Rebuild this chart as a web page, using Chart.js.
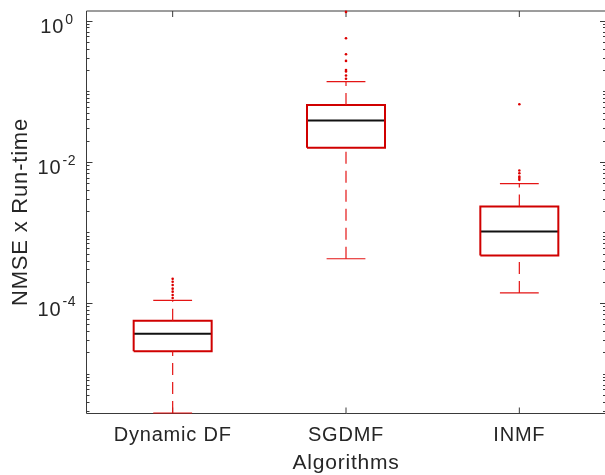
<!DOCTYPE html>
<html>
<head>
<meta charset="utf-8">
<script src="https://cdn.jsdelivr.net/npm/chart.js@4.4.1/dist/chart.umd.min.js"></script>
<style>
  html, body { margin: 0; padding: 0; background: #fff; overflow: hidden; }
  #wrap { width: 610px; height: 475px; }
</style>
</head>
<body>
<div id="wrap"><canvas id="chart"></canvas></div>
<script>
// box plot summary per algorithm
const categories = ["Dynamic DF", "SGDMF", "INMF"];
const lowerWhisker = [2.77e-6, 4.24e-4, 1.39e-4];
const q1 = [2.07e-5, 0.0159, 4.72e-4];
const medians = [3.67e-5, 0.0384, 1.03e-3];
const q3 = [5.61e-5, 0.0641, 2.33e-3];
const upperWhisker = [1.09e-4, 0.137, 4.93e-3];
const outliers = [
  [2.2e-4, 2.0e-4, 1.8e-4, 1.6e-4, 1.45e-4, 1.3e-4, 1.18e-4],
  [1.33, 0.563, 0.334, 0.269, 0.2, 0.19, 0.167, 0.15],
  [0.0656, 7.53e-3, 6.9e-3, 6.19e-3, 5.9e-3, 5.56e-3]
];
const yTickValues = [1e-4, 1e-2, 1];
const yMin = 2.77e-6;
const yMax = 1.37;

const TEXT = "#262626";
const AXIS = "#3a3a3a";
const FONT = "'Liberation Sans', Arial, Helvetica, sans-serif";
const BOX_HALF = 0.225;
const CAP_HALF = 0.112;

const boxPts = [];
const medPts = [];
const whiskPts = [];
const capPts = [];
const outPts = [];

categories.forEach((name, i) => {
  const x = i + 1;
  boxPts.push(
    { x: x - BOX_HALF, y: q1[i] }, { x: x + BOX_HALF, y: q1[i] },
    { x: x + BOX_HALF, y: q3[i] }, { x: x - BOX_HALF, y: q3[i] },
    { x: x - BOX_HALF, y: q1[i] }, { x: x, y: null }
  );
  medPts.push({ x: x - BOX_HALF, y: medians[i] }, { x: x + BOX_HALF, y: medians[i] }, { x: x, y: null });
  // upper whisker goes up from the box, lower one comes up from its end
  whiskPts.push(
    { x: x, y: q3[i] }, { x: x, y: upperWhisker[i] }, { x: x, y: null },
    { x: x, y: lowerWhisker[i] }, { x: x, y: q1[i] }, { x: x, y: null }
  );
  capPts.push(
    { x: x - CAP_HALF, y: upperWhisker[i] }, { x: x + CAP_HALF, y: upperWhisker[i] }, { x: x, y: null },
    { x: x - CAP_HALF, y: lowerWhisker[i] }, { x: x + CAP_HALF, y: lowerWhisker[i] }, { x: x, y: null }
  );
  outliers[i].forEach((v) => outPts.push({ x: x, y: v }));
});

function lineSet(data, color, width, dash) {
  return {
    type: "line",
    data: data,
    borderColor: color,
    borderWidth: width,
    borderDash: dash || [],
    borderJoinStyle: "miter",
    pointRadius: 0,
    showLine: true,
    spanGaps: false,
    fill: false,
    tension: 0,
    clip: false
  };
}

// frame, inward ticks and 10^n labels
const axesFrame = {
  id: "axesFrame",
  beforeDraw(chart) {
    chart.ctx.letterSpacing = "0.8px";
  },
  beforeDatasetsDraw(chart) {
    const { ctx, chartArea: a, scales } = chart;
    const xs = scales.x, ys = scales.y;
    const left = Math.round(a.left) + 0.5;
    const bottom = Math.round(a.bottom) + 0.5;
    ctx.save();
    ctx.strokeStyle = AXIS;
    ctx.lineWidth = 1;
    ctx.beginPath();
    ctx.moveTo(left, a.top);
    ctx.lineTo(a.right, a.top);
    ctx.lineTo(a.right, bottom);
    ctx.lineTo(left, bottom);
    ctx.closePath();
    for (let k = -7; k <= 0; k++) {
      for (let m = 1; m <= 9; m++) {
        const v = m * Math.pow(10, k);
        if (v < yMin || v > yMax) continue;
        const py = Math.round(ys.getPixelForValue(v)) + 0.5;
        const major = m === 1 && yTickValues.some((t) => Math.abs(Math.log10(t) - k) < 1e-9);
        const len = major ? 6 : 3;
        ctx.moveTo(left, py);
        ctx.lineTo(left + len, py);
        ctx.moveTo(a.right, py);
        ctx.lineTo(a.right - len, py);
      }
    }
    categories.forEach((c, i) => {
      const px = xs.getPixelForValue(i + 1);
      ctx.moveTo(px, bottom);
      ctx.lineTo(px, bottom - 6);
      ctx.moveTo(px, a.top);
      ctx.lineTo(px, a.top + 6);
    });
    ctx.stroke();
    ctx.restore();
  },
  afterDraw(chart) {
    const { ctx, scales } = chart;
    const ys = scales.y;
    ctx.save();
    ctx.fillStyle = TEXT;
    ctx.textAlign = "left";
    ctx.textBaseline = "alphabetic";
    yTickValues.forEach((v) => {
      const py = ys.getPixelForValue(v);
      const base = "10";
      const exp = String(Math.round(Math.log10(v)));
      ctx.font = "20px " + FONT;
      const wb = ctx.measureText(base).width;
      ctx.font = "14px " + FONT;
      const we = ctx.measureText(exp).width;
      const x0 = 57 - (wb + 1 + we) / 2;
      ctx.font = "20px " + FONT;
      ctx.fillText(base, x0, py + 12.5);
      ctx.font = "14px " + FONT;
      ctx.fillText(exp, x0 + wb + 1, py + 3);
    });
    ctx.restore();
  }
};

new Chart(document.getElementById("chart"), {
  type: "scatter",
  data: {
    datasets: [
      lineSet(whiskPts, "rgb(228,20,20)", 1.2, [12, 7]),
      lineSet(capPts, "rgb(228,20,20)", 1.2),
      lineSet(boxPts, "rgb(208,0,0)", 2),
      lineSet(medPts, "#111111", 2),
      {
        type: "scatter",
        data: outPts,
        pointRadius: 1.3,
        pointBackgroundColor: "rgb(220,0,0)",
        pointBorderWidth: 0,
        showLine: false,
        clip: false
      }
    ]
  },
  options: {
    responsive: true,
    maintainAspectRatio: false,
    animation: false,
    layout: { padding: { top: 11, right: 3, left: 0, bottom: 0 } },
    plugins: {
      legend: { display: false },
      tooltip: { enabled: false }
    },
    scales: {
      x: {
        type: "linear",
        position: "bottom",
        min: 0.5,
        max: 3.5,
        afterBuildTicks: (s) => { s.ticks = categories.map((c, i) => ({ value: i + 1 })); },
        afterFit: (s) => { s.height = 62; },
        grid: { display: false, drawTicks: false },
        border: { display: false },
        ticks: {
          color: TEXT,
          font: { family: FONT, size: 20 },
          padding: 10,
          autoSkip: false,
          maxRotation: 0,
          callback: (v) => categories[Math.round(v) - 1]
        },
        title: {
          display: true,
          text: "Algorithms",
          color: TEXT,
          font: { family: FONT, size: 21 },
          padding: { top: 0, bottom: -1 }
        }
      },
      y: {
        type: "logarithmic",
        min: yMin,
        max: yMax,
        afterFit: (s) => { s.width = 86; },
        grid: { display: false, drawTicks: false },
        border: { display: false },
        ticks: { display: false },
        title: {
          display: true,
          text: "NMSE x Run-time",
          color: TEXT,
          font: { family: FONT, size: 22 },
          padding: { top: 8, bottom: 0 }
        }
      }
    }
  },
  plugins: [axesFrame]
});
</script>
</body>
</html>
